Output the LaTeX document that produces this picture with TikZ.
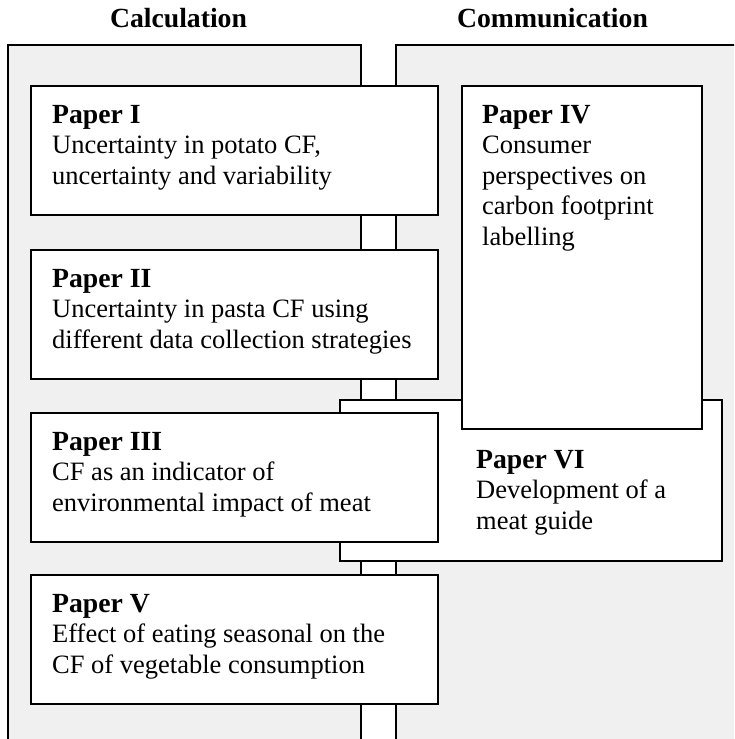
\documentclass[tikz,border=0pt]{standalone}
\usepackage{fontspec}
\setmainfont{Liberation Serif}
\usepackage{tikz}
\usetikzlibrary{calc}

\definecolor{panelgray}{RGB}{240,240,240}
% bold title line, first line held at 20pt above its baseline
\newcommand{\ptitle}[1]{\rule{0pt}{20pt}{\fontsize{27.7}{30.5}\selectfont\bfseries #1}}

\tikzset{
  paper/.style={draw, line width=2pt, fill=white, anchor=north west, inner sep=0pt, outer sep=0pt},
  ptext/.style={anchor=north west, align=left, inner sep=0pt, font=\fontsize{26.5}{30.5}\selectfont},
  head/.style={anchor=base, inner sep=0pt, font=\fontsize{27.7}{30}\selectfont\bfseries},
}

\begin{document}
\begin{tikzpicture}[x=1pt,y=1pt,yscale=-1,xscale=1]
\useasboundingbox (0,0) rectangle (734,739);
\clip (0,0) rectangle (734,739);
%Headings
\node[head] (calc) at (178.5,27) {Calculation};
\node[head] (comm) at (552.5,27) {Communication};
%Panel: Calculation
\fill[panelgray] (8,45) rectangle (361,745);
\draw[line width=1.5pt] (8,745) |- (361,45) -- (361,745);
%Panel: Communication
\fill[panelgray] (396,45) rectangle (740,745);
\draw[line width=1.5pt] (396,745) |- (740,45);
%Paper VI (behind III and IV)
\node[paper, minimum width=382pt, minimum height=161pt] (paperVI) at (340,400) {};
\node[ptext] (paperVItext) at ([shift={(136,48)}]paperVI.north west) {\ptitle{Paper VI}\\Development of a\\meat guide};
%Paper I
\node[paper, minimum width=407pt, minimum height=129pt] (paperI) at (31,86) {};
\node[ptext] (paperItext) at ([shift={(21,17)}]paperI.north west) {\ptitle{Paper I}\\Uncertainty in potato CF,\\uncertainty and variability};
%Paper II
\node[paper, minimum width=407pt, minimum height=129pt] (paperII) at (31,250) {};
\node[ptext] (paperIItext) at ([shift={(21,17)}]paperII.north west) {\ptitle{Paper II}\\Uncertainty in pasta CF using\\different data collection strategies};
%Paper III
\node[paper, minimum width=407pt, minimum height=129pt] (paperIII) at (31,413) {};
\node[ptext] (paperIIItext) at ([shift={(21,17)}]paperIII.north west) {\ptitle{Paper III}\\CF as an indicator of\\environmental impact of meat};
%Paper V
\node[paper, minimum width=407pt, minimum height=129pt] (paperV) at (31,575) {};
\node[ptext] (paperVtext) at ([shift={(21,17)}]paperV.north west) {\ptitle{Paper V}\\Effect of eating seasonal on the\\CF of vegetable consumption};
%Paper IV
\node[paper, minimum width=240pt, minimum height=343pt] (paperIV) at (462,86) {};
\node[ptext] (paperIVtext) at ([shift={(20,17)}]paperIV.north west) {\ptitle{Paper IV}\\Consumer\\perspectives on\\carbon footprint\\labelling};
\end{tikzpicture}
\end{document}
